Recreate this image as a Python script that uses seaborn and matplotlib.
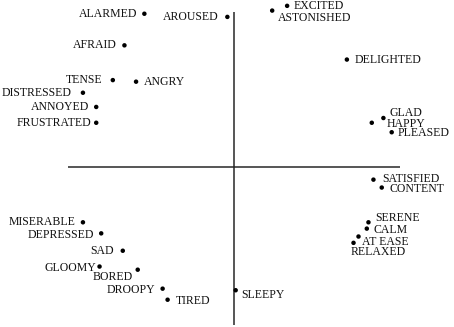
import pandas as pd
import matplotlib
matplotlib.use("Agg")
import matplotlib.pyplot as plt
import seaborn as sns

# affect words on a valence (x) / arousal (y) plane
words = ["ALARMED", "AROUSED", "AFRAID", "TENSE", "ANGRY", "DISTRESSED",
         "ANNOYED", "FRUSTRATED", "EXCITED", "ASTONISHED", "DELIGHTED",
         "GLAD", "HAPPY", "PLEASED", "SATISFIED", "CONTENT", "SERENE",
         "CALM", "AT EASE", "RELAXED", "SLEEPY", "MISERABLE", "DEPRESSED",
         "SAD", "GLOOMY", "BORED", "DROOPY", "TIRED"]
valence = [-0.54, -0.04, -0.66, -0.73, -0.59, -0.91,
           -0.83, -0.83, 0.32, 0.23, 0.68,
           0.90, 0.83, 0.95, 0.84, 0.89, 0.81,
           0.80, 0.75, 0.72, 0.01, -0.91, -0.80,
           -0.67, -0.81, -0.58, -0.43, -0.40]
arousal = [0.97, 0.95, 0.77, 0.55, 0.54, 0.47,
           0.38, 0.28, 1.02, 0.99, 0.68,
           0.31, 0.28, 0.22, -0.08, -0.13, -0.35,
           -0.39, -0.44, -0.48, -0.78, -0.35, -0.42,
           -0.53, -0.63, -0.65, -0.77, -0.84]

# label placement: (dx, dy) in points, horizontal alignment
place = {
    "ALARMED": (-7, 0, "right"), "AROUSED": (-9, 0, "right"),
    "AFRAID": (-8, 0, "right"), "TENSE": (-10, 0, "right"),
    "ANGRY": (8, 0, "left"), "DISTRESSED": (-11, 0, "right"),
    "ANNOYED": (-7, 0, "right"), "FRUSTRATED": (-5, 0, "right"),
    "EXCITED": (6, 0, "left"), "ASTONISHED": (6, -7, "left"),
    "DELIGHTED": (8, 0, "left"), "GLAD": (6, 5, "left"),
    "HAPPY": (15, -1, "left"), "PLEASED": (6, -1, "left"),
    "SATISFIED": (9, 1, "left"), "CONTENT": (8, -1, "left"),
    "SERENE": (7, 4, "left"), "CALM": (7, -1, "left"),
    "AT EASE": (4, -5, "left"), "RELAXED": (-3, -9, "left"),
    "SLEEPY": (6, -5, "left"), "MISERABLE": (-7, 0, "right"),
    "DEPRESSED": (-7, -2, "right"), "SAD": (-9, 0, "right"),
    "GLOOMY": (-3, -1, "right"), "BORED": (-5, -7, "right"),
    "DROOPY": (-7, -1, "right"), "TIRED": (8, -1, "left"),
}

df = pd.DataFrame({"word": words, "valence": valence, "arousal": arousal})

sns.set_theme(style="white")
plt.rcParams["font.family"] = ["Liberation Serif", "DejaVu Serif"]

fig = plt.figure(figsize=(454 / 72, 327 / 72), dpi=72)
ax = fig.add_axes([0, 0, 1, 1])

ax.hlines(0, -1, 1, color="#222222", lw=1.5)
ax.vlines(0, -1, 0.98, color="#222222", lw=1.5)

sns.scatterplot(data=df, x="valence", y="arousal", ax=ax,
                color="black", s=20, edgecolor="none", legend=False, zorder=3)

for w, x, y in zip(words, valence, arousal):
    dx, dy, ha = place[w]
    ax.annotate(w, (x, y), xytext=(dx, dy), textcoords="offset points",
                ha=ha, va="center", fontsize=11.8, color="#111111")

ax.set_xlim(-234 / 166, 220 / 166)
ax.set_ylim(-160 / 158, 167 / 158)
ax.axis("off")

fig.savefig("out.png", dpi=72, facecolor="white")
